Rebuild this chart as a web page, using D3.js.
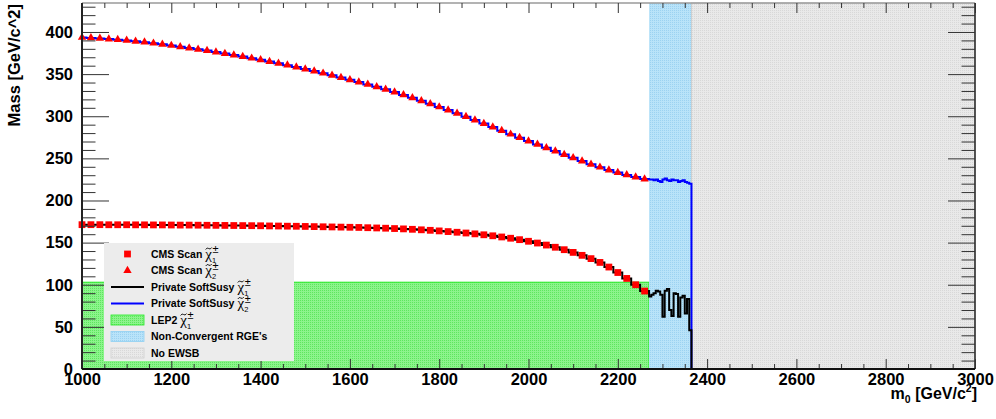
<!DOCTYPE html>
<html>
<head>
<meta charset="utf-8">
<script src="https://cdn.jsdelivr.net/npm/d3@7"></script>
<style>
    body { margin: 0; background: #fff; }
    svg { display: block; font-family: 'Liberation Sans', Arial, sans-serif; }
</style>
</head>
<body>
<svg class="canvas" width="996" height="419"></svg>
<script>
// CMS scan points, every 20 GeV in m0
const scanM0 = d3.range(1000, 2261, 20);
const chi1Scan = [
    171.3, 171.3, 171.3, 171.2, 171.2, 171.2, 171.1, 171.1, 171.0, 171.0,
    170.9, 170.8, 170.8, 170.7, 170.6, 170.5, 170.4, 170.3, 170.2, 170.1,
    170.0, 169.8, 169.7, 169.5, 169.4, 169.2, 169.0, 168.8, 168.6, 168.4,
    168.2, 168.0, 167.7, 167.4, 167.1, 166.7, 166.3, 165.8, 165.2, 164.6,
    163.9, 163.1, 162.3, 161.4, 160.4, 159.3, 158.1, 156.7, 155.2, 153.5,
    151.6, 149.5, 147.1, 144.5, 141.6, 138.4, 134.9, 131.0, 126.5, 121.0,
    114.5, 107.5, 100.0, 92.5
];
const chi2Scan = [
    393.5, 393.0, 392.4, 391.7, 390.9, 390.0, 389.0, 387.9, 386.7, 385.4,
    384.0, 382.5, 381.0, 379.5, 377.9, 376.2, 374.4, 372.6, 370.8, 368.9,
    366.9, 364.9, 362.8, 360.6, 358.3, 356.0, 353.6, 351.1, 348.5, 345.9,
    343.3, 340.6, 337.8, 334.9, 332.0, 328.7, 325.3, 321.8, 318.3, 314.7,
    311.0, 307.3, 303.5, 299.5, 295.4, 291.3, 287.1, 282.9, 278.7, 274.6,
    270.6, 266.6, 262.6, 258.6, 254.6, 250.7, 246.8, 243.0, 239.5, 236.2,
    233.2, 230.4, 227.8, 225.5
];

// private SoftSusy inside the non-convergent strip (5 GeV bins, lower edges)
const stripM0 = d3.range(2270, 2361, 5);
const chi1Strip = [86, 88, 90, 93, 92, 88, 62, 93, 95, 70, 63, 90, 89, 62, 85, 87, 66, 83, 46];
const chi2Strip = [225, 225, 224, 225, 223, 222, 225, 226, 224, 223, 225, 224, 224, 222, 223, 224, 222, 221, 220];

// excluded / problem regions
const lep2Range = [1000, 2270];
const lep2Limit = 103;
const nonConvRange = [2270, 2365];
const noEwsbRange = [2365, 3000];

const xTicks = d3.range(1000, 3001, 200);
const yTicks = d3.range(0, 401, 50);

const legendLabels = ['CMS Scan', 'CMS Scan', 'Private SoftSusy', 'Private SoftSusy', 'LEP2', "Non-Convergent RGE's", 'No EWSB'];
const legendChi = ['1', '2', '1', '2', '1', null, null];

// svg canvas
const svg = d3.select('.canvas');
const frameL = 82, frameR = 975, frameT = 3, frameB = 369;

const xScale = d3.scaleLinear().domain([1000, 3000]).range([frameL, frameR]);
const yScale = d3.scaleLinear().domain([0, 434.4]).range([frameB, frameT]);

// fill patterns (ROOT style dotted fills)
const defs = svg.append('defs');
function dotPattern(id, base, dot) {
    const p = defs.append('pattern')
        .attr('id', id)
        .attr('width', 2)
        .attr('height', 2)
        .attr('patternUnits', 'userSpaceOnUse');
    p.append('rect').attr('width', 2).attr('height', 2).attr('fill', base);
    p.append('rect').attr('width', 1).attr('height', 1).attr('fill', dot);
}
dotPattern('fill-lep', '#8cf48c', '#5ee65e');
dotPattern('fill-nonconv', '#b9e3f9', '#9cd2f1');
dotPattern('fill-noewsb', '#e9e9e9', '#d8d8d8');

// regions
svg.append('rect')
    .attr('x', xScale(lep2Range[0]))
    .attr('y', yScale(lep2Limit))
    .attr('width', xScale(lep2Range[1]) - xScale(lep2Range[0]))
    .attr('height', yScale(0) - yScale(lep2Limit))
    .attr('fill', 'url(#fill-lep)')
    .attr('stroke', '#22e822')
    .attr('stroke-width', 1);
svg.append('rect')
    .attr('x', xScale(nonConvRange[0]))
    .attr('y', frameT)
    .attr('width', xScale(nonConvRange[1]) - xScale(nonConvRange[0]))
    .attr('height', frameB - frameT)
    .attr('fill', 'url(#fill-nonconv)');
svg.append('rect')
    .attr('x', xScale(noEwsbRange[0]))
    .attr('y', frameT)
    .attr('width', xScale(noEwsbRange[1]) - xScale(noEwsbRange[0]))
    .attr('height', frameB - frameT)
    .attr('fill', 'url(#fill-noewsb)')
    .attr('stroke', '#c8c8c8')
    .attr('stroke-width', 0.8);

// histogram outline: scan bins (20 wide) + strip bins (5 wide), then zero to the end
function histPoints(scanVals, stripVals) {
    const pts = [[1000, 0]];
    scanM0.forEach((m, i) => {
        pts.push([Math.max(m - 10, 1000), scanVals[i]]);
        pts.push([m + 10, scanVals[i]]);
    });
    stripM0.forEach((m, i) => {
        pts.push([m, stripVals[i]]);
        pts.push([m + 5, stripVals[i]]);
    });
    pts.push([noEwsbRange[0], 0]);
    pts.push([3000, 0]);
    return pts;
}
const line = d3.line().x((d) => xScale(d[0])).y((d) => yScale(d[1]));

svg.append('path')
    .attr('d', line(histPoints(chi2Scan, chi2Strip)))
    .attr('fill', 'none')
    .attr('stroke', '#0000ff')
    .attr('stroke-width', 2);
svg.append('path')
    .attr('d', line(histPoints(chi1Scan, chi1Strip)))
    .attr('fill', 'none')
    .attr('stroke', '#000')
    .attr('stroke-width', 2);

// scan markers
svg.selectAll('path.tri')
    .data(scanM0)
    .enter()
    .append('path')
    .attr('class', 'tri')
    .attr('d', d3.symbol(d3.symbolTriangle, 30))
    .attr('transform', (d, i) => `translate(${xScale(d)}, ${yScale(chi2Scan[i])})`)
    .attr('fill', '#ff0000');
svg.selectAll('path.sq')
    .data(scanM0)
    .enter()
    .append('path')
    .attr('class', 'sq')
    .attr('d', d3.symbol(d3.symbolSquare, 46))
    .attr('transform', (d, i) => `translate(${xScale(d)}, ${yScale(chi1Scan[i])})`)
    .attr('fill', '#ff0000');

// frame
svg.append('line').attr('x1', frameL).attr('x2', frameR).attr('y1', frameT).attr('y2', frameT)
    .attr('stroke', '#9a9a9a').attr('stroke-width', 1.5);
svg.append('line').attr('x1', frameR).attr('x2', frameR).attr('y1', frameT).attr('y2', frameB)
    .attr('stroke', '#222').attr('stroke-width', 1.5);

// axes, ROOT style: ticks pointing into the frame
function styleAxis(g) {
    g.select('.domain').remove();
    g.selectAll('.tick line').attr('stroke', '#333');
    g.selectAll('.tick text')
        .attr('font-family', "'Liberation Sans', Arial, sans-serif")
        .attr('font-weight', 'bold')
        .attr('font-size', 16.5)
        .attr('fill', '#000');
}
const minorY = d3.range(0, 435, 10).filter((v) => v % 50 !== 0);
const minorX = d3.range(1000, 3001, 50).filter((v) => v % 200 !== 0);

svg.append('g').attr('transform', `translate(${frameL}, 0)`)
    .call(d3.axisLeft(yScale).tickValues(yTicks).tickSize(-27).tickPadding(9).tickFormat(d3.format('d')))
    .call(styleAxis);
svg.append('g').attr('transform', `translate(${frameL}, 0)`)
    .call(d3.axisLeft(yScale).tickValues(minorY).tickSize(-13.5).tickFormat(''))
    .call(styleAxis);
svg.append('g').attr('transform', `translate(${frameR}, 0)`)
    .call(d3.axisRight(yScale).tickValues(yTicks).tickSize(-27).tickFormat(''))
    .call(styleAxis);
svg.append('g').attr('transform', `translate(${frameR}, 0)`)
    .call(d3.axisRight(yScale).tickValues(minorY).tickSize(-13.5).tickFormat(''))
    .call(styleAxis);

svg.append('g').attr('transform', `translate(0, ${frameB})`)
    .call(d3.axisBottom(xScale).tickValues(xTicks).tickSize(-10).tickPadding(4).tickFormat(d3.format('d')))
    .call(styleAxis);
svg.append('g').attr('transform', `translate(0, ${frameB})`)
    .call(d3.axisBottom(xScale).tickValues(minorX).tickSize(-5).tickFormat(''))
    .call(styleAxis);
svg.append('g').attr('transform', `translate(0, ${frameT})`)
    .call(d3.axisTop(xScale).tickValues(xTicks).tickSize(-10).tickFormat(''))
    .call(styleAxis);
svg.append('g').attr('transform', `translate(0, ${frameT})`)
    .call(d3.axisTop(xScale).tickValues(minorX).tickSize(-5).tickFormat(''))
    .call(styleAxis);

// axis lines
svg.append('line').attr('x1', frameL).attr('x2', frameL).attr('y1', frameT).attr('y2', frameB)
    .attr('stroke', '#222').attr('stroke-width', 2);
svg.append('line').attr('x1', frameL).attr('x2', frameR).attr('y1', frameB).attr('y2', frameB)
    .attr('stroke', '#111').attr('stroke-width', 2);

// axis titles
svg.append('text')
    .attr('transform', `translate(20, 4) rotate(-90)`)
    .attr('text-anchor', 'end')
    .attr('font-weight', 'bold')
    .attr('font-size', 16.5)
    .text('Mass [GeV/c^2]');

const xTitle = svg.append('text')
    .attr('x', 977)
    .attr('y', 399)
    .attr('text-anchor', 'end')
    .attr('font-weight', 'bold')
    .attr('font-size', 16);
xTitle.append('tspan').text('m');
xTitle.append('tspan').attr('font-size', 10.5).attr('dy', 4).text('0');
xTitle.append('tspan').attr('dy', -4).text(' [GeV/c');
xTitle.append('tspan').attr('font-size', 10.5).attr('dy', -7).text('2');
xTitle.append('tspan').attr('dy', 7).text(']');

// legend
const legend = svg.append('g');
legend.append('rect')
    .attr('x', 104).attr('y', 243)
    .attr('width', 190).attr('height', 118)
    .attr('fill', '#ececec');

const rowY = (i) => 254 + i * 16.5;
const symX0 = 111, symX1 = 144, symXc = 127.5;

legend.append('path')
    .attr('d', d3.symbol(d3.symbolSquare, 46))
    .attr('transform', `translate(${symXc}, ${rowY(0)})`)
    .attr('fill', '#ff0000');
legend.append('path')
    .attr('d', d3.symbol(d3.symbolTriangle, 30))
    .attr('transform', `translate(${symXc}, ${rowY(1)})`)
    .attr('fill', '#ff0000');
legend.append('line')
    .attr('x1', symX0).attr('x2', symX1).attr('y1', rowY(2)).attr('y2', rowY(2))
    .attr('stroke', '#000').attr('stroke-width', 2);
legend.append('line')
    .attr('x1', symX0).attr('x2', symX1).attr('y1', rowY(3)).attr('y2', rowY(3))
    .attr('stroke', '#0000ff').attr('stroke-width', 2);
[['fill-lep', '#22e822'], ['fill-nonconv', '#8ecff2'], ['fill-noewsb', '#cfcfcf']].forEach((f, k) => {
    legend.append('rect')
        .attr('x', symX0).attr('y', rowY(4 + k) - 5)
        .attr('width', symX1 - symX0).attr('height', 10)
        .attr('fill', `url(#${f[0]})`)
        .attr('stroke', f[1])
        .attr('stroke-width', 0.8);
});

legendLabels.forEach((label, i) => {
    const base = rowY(i) + 3.5;
    const t = legend.append('text')
        .attr('x', 151)
        .attr('y', base)
        .attr('font-weight', 'bold')
        .attr('font-size', 10.5);
    const lab = t.append('tspan').text(label);
    if (!legendChi[i]) return;
    // chargino symbol: chi with tilde, subscript index, superscript +-
    const chi = t.append('tspan')
        .attr('dx', 3)
        .attr('dy', 1)
        .attr('font-family', "'Liberation Serif', 'DejaVu Serif', serif")
        .attr('font-weight', 'normal')
        .attr('font-size', 15)
        .text('\u03c7');
    const cx = 151 + lab.node().getComputedTextLength() + 3;
    const cw = chi.node().getComputedTextLength();
    t.append('tspan')
        .attr('x', cx + cw)
        .attr('y', base + 5)
        .attr('font-weight', 'normal')
        .attr('font-size', 7.5)
        .text(legendChi[i]);
    t.append('tspan')
        .attr('x', cx + cw + 0.5)
        .attr('y', base - 4.5)
        .attr('font-weight', 'normal')
        .attr('font-size', 11)
        .text('\u00b1');
    // small tilde over the chi
    const tx = cx + cw / 2, ty = base - 9;
    legend.append('path')
        .attr('d', `M${tx - 3},${ty + 1} Q${tx - 1.5},${ty - 1.5} ${tx},${ty} T${tx + 3},${ty - 1}`)
        .attr('fill', 'none')
        .attr('stroke', '#000')
        .attr('stroke-width', 0.9);
});
</script>
</body>
</html>
